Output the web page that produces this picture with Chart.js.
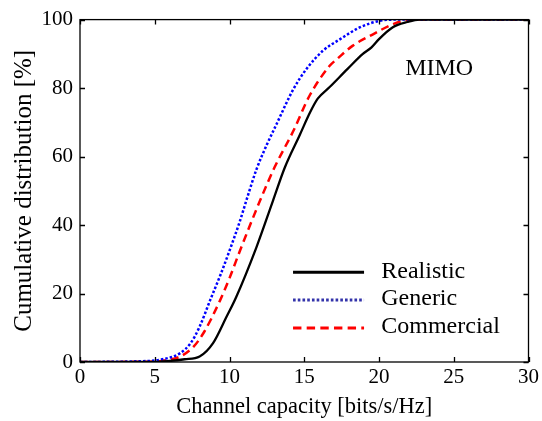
<!DOCTYPE html>
<html>
<head>
<meta charset="utf-8">
<script src="https://cdn.jsdelivr.net/npm/chart.js@4/dist/chart.umd.min.js"></script>
<style>
html,body{margin:0;padding:0;background:#fff;}
#wrap{width:542px;height:421px;position:relative;}
</style>
</head>
<body>
<div id="wrap"><canvas id="c" width="542" height="421"></canvas></div>
<script>
const seriesNames = ["Realistic", "Generic", "Commercial"];
const realisticX = [0, 5, 6, 7, 8.0, 8.9, 9.8, 10.45, 11.8, 12.9, 13.7, 14.7, 15.4, 15.9, 16.7, 17.9, 18.9, 19.5, 20.0, 20.9, 21.9, 22.7, 30];
const realisticY = [0, 0, 0.3, 0.8, 1.6, 5.5, 13.2, 19, 33.5, 47, 56.8, 66.3, 73, 76.9, 80.3, 85.6, 89.9, 91.9, 94.3, 97.7, 99.3, 100, 100];
const genericX = [0, 3.8, 5.4, 6.7, 7.4, 8.0, 8.7, 9.4, 10.0, 10.7, 11.15, 11.8, 12.5, 13.15, 14.25, 15.15, 16.25, 17.4, 18.7, 20.0, 21.0, 30];
const genericY = [0, 0.2, 0.7, 2.6, 5.5, 10.3, 18, 25.5, 32.5, 41.2, 47.5, 56.2, 63.5, 69.5, 79.5, 85.6, 90.9, 94.3, 97.7, 99.6, 100, 100];
const commercialX = [0, 4.5, 5.4, 6.7, 7.6, 8.25, 9.37, 10.0, 10.7, 12.03, 13.03, 14.25, 15.37, 16.7, 17.2, 18.25, 19.6, 20.9, 22.2, 30];
const commercialY = [0, 0.1, 0.3, 1.6, 4.5, 8.4, 18, 24.5, 32.5, 47, 57, 67.3, 77.9, 86.5, 88.5, 92.4, 95.7, 98.6, 100, 100];
const xTicks = [0, 5, 10, 15, 20, 25, 30];
const yTicks = [0, 20, 40, 60, 80, 100];
const annotationText = "MIMO";
const xTitle = "Channel capacity [bits/s/Hz]";
const yTitle = "Cumulative distribution [%]";

const FONT = "'Liberation Serif', 'Times New Roman', serif";
const toPts = (xs, ys) => xs.map((x, i) => ({x: x, y: ys[i]}));

const styles = [
  {color: "#000000", dash: [], width: 2.3},
  {color: "#0000ff", dash: [2.5, 2], width: 2.5},
  {color: "#ff0000", dash: [8, 5], width: 2.5}
];
const legendColors = ["#000000", "#3333aa", "#ff0000"];
const dataSets = [toPts(realisticX, realisticY), toPts(genericX, genericY), toPts(commercialX, commercialY)];

const boxPlugin = {
  id: "boxTicks",
  afterDatasetsDraw(chart) {
    const ctx = chart.ctx;
    const a = chart.chartArea;
    const xs = chart.scales.x, ys = chart.scales.y;
    ctx.save();
    ctx.strokeStyle = "#000";
    ctx.lineWidth = 1.3;
    ctx.setLineDash([]);
    ctx.strokeRect(a.left, a.top, a.right - a.left, a.bottom - a.top);
    const L = 5;
    ctx.beginPath();
    xTicks.forEach(v => {
      const p = Math.round(xs.getPixelForValue(v)) + 0.5;
      ctx.moveTo(p, a.bottom); ctx.lineTo(p, a.bottom - L);
      ctx.moveTo(p, a.top); ctx.lineTo(p, a.top + L);
    });
    yTicks.forEach(v => {
      const p = Math.round(ys.getPixelForValue(v)) + 0.5;
      ctx.moveTo(a.left, p); ctx.lineTo(a.left + L, p);
      ctx.moveTo(a.right, p); ctx.lineTo(a.right - L, p);
    });
    ctx.stroke();

    // annotation
    ctx.fillStyle = "#000";
    ctx.font = "24px " + FONT;
    ctx.textAlign = "left";
    ctx.textBaseline = "middle";
    ctx.fillText(annotationText, xs.getPixelForValue(21.75), ys.getPixelForValue(85.6));

    // legend
    const lx0 = xs.getPixelForValue(14.25), lx1 = xs.getPixelForValue(19.0);
    const tx = xs.getPixelForValue(20.15);
    const ly = [ys.getPixelForValue(26.2), ys.getPixelForValue(18.1), ys.getPixelForValue(9.9)];
    seriesNames.forEach((n, i) => {
      ctx.beginPath();
      ctx.strokeStyle = legendColors[i];
      ctx.lineWidth = 3;
      ctx.setLineDash(styles[i].dash.map(d => d * 1.05));
      ctx.moveTo(lx0, ly[i]); ctx.lineTo(lx1, ly[i]);
      ctx.stroke();
      ctx.setLineDash([]);
      ctx.fillStyle = "#000";
      ctx.fillText(n, tx, ly[i] - 1);
    });
    ctx.restore();
  }
};

new Chart(document.getElementById("c"), {
  type: "line",
  data: {
    datasets: dataSets.map((d, i) => ({
      label: seriesNames[i],
      data: d,
      borderColor: styles[i].color,
      borderDash: styles[i].dash,
      borderWidth: styles[i].width,
      pointRadius: 0,
      cubicInterpolationMode: "monotone",
      fill: false
    }))
  },
  options: {
    responsive: false,
    animation: false,
    devicePixelRatio: 1,
    layout: {padding: {top: 17, right: 13, left: 9, bottom: 0}},
    plugins: {legend: {display: false}, tooltip: {enabled: false}},
    scales: {
      x: {
        type: "linear", min: 0, max: 30,
        grid: {display: false, drawTicks: false},
        border: {display: false},
        afterBuildTicks: s => { s.ticks = xTicks.map(v => ({value: v})); },
        afterFit: s => { s.height = 59; },
        ticks: {color: "#000", font: {family: FONT, size: 21}, padding: 3, maxRotation: 0},
        title: {display: true, text: xTitle, color: "#000", font: {family: FONT, size: 22.5}, padding: {top: 0, bottom: 0}}
      },
      y: {
        type: "linear", min: 0, max: 100,
        grid: {display: false, drawTicks: false},
        border: {display: false},
        afterBuildTicks: s => { s.ticks = yTicks.map(v => ({value: v})); },
        afterFit: s => { s.width = 71; },
        ticks: {color: "#000", font: {family: FONT, size: 21}, padding: 7},
        title: {display: true, text: yTitle, color: "#000", font: {family: FONT, size: 25}, padding: {top: 0, bottom: 0}}
      }
    }
  },
  plugins: [boxPlugin]
});
</script>
</body>
</html>
